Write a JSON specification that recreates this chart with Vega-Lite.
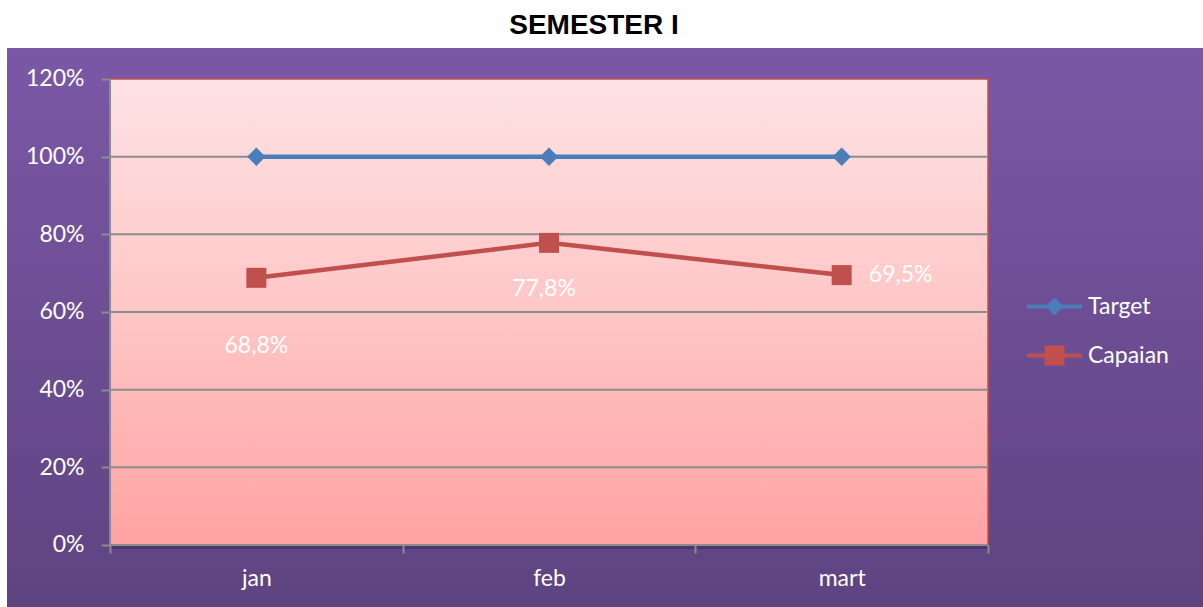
{
  "$schema": "https://vega.github.io/schema/vega-lite/v6.json",
  "width": 1196,
  "height": 559,
  "autosize": {"type": "none"},
  "padding": {"left": 7, "top": 48, "right": 0, "bottom": 0},
  "background": "white",
  "title": {"text": "SEMESTER I", "font": "Liberation Sans", "fontSize": 28, "fontWeight": "bold", "color": "#000000", "anchor": "middle", "frame": "group", "dx": -11, "offset": -14, "baseline": "alphabetic"},
  "config": {
    "view": {"fill": {"gradient": "linear", "x1": 0, "y1": 0, "x2": 0, "y2": 1, "stops": [{"offset": 0, "color": "#7b58a6"}, {"offset": 1, "color": "#5e4381"}]}, "stroke": null},
    "locale": {"number": {"decimal": ",", "thousands": ".", "grouping": [3], "currency": ["Rp", ""]}}
  },
  "data": {"values": [
    {"bulan": "jan", "bulan_ke": 1, "seri": "Target", "nilai": 1.0},
    {"bulan": "feb", "bulan_ke": 2, "seri": "Target", "nilai": 1.0},
    {"bulan": "mart", "bulan_ke": 3, "seri": "Target", "nilai": 1.0},
    {"bulan": "jan", "bulan_ke": 1, "seri": "Capaian", "nilai": 0.688},
    {"bulan": "feb", "bulan_ke": 2, "seri": "Capaian", "nilai": 0.778},
    {"bulan": "mart", "bulan_ke": 3, "seri": "Capaian", "nilai": 0.695}
  ]},
  "layer": [
    {
      "data": {"values": [{}]},
      "mark": {"type": "rect", "fill": "#2a1a40", "opacity": 0.35, "yOffset": 4},
      "encoding": {
        "x": {"datum": 0.5, "type": "quantitative", "title": null,
          "scale": {"type": "linear", "domain": [0.148, 4.2346], "nice": false, "zero": false},
          "axis": {"orient": "bottom", "offset": -62, "values": [0.5, 1, 1.5, 2, 2.5, 3, 3.5],
            "labelExpr": "datum.value == 1 ? 'jan' : datum.value == 2 ? 'feb' : datum.value == 3 ? 'mart' : ''",
            "domain": false, "grid": false, "tickSize": 8, "tickColor": "#8c8c8c", "tickWidth": 2,
            "tickOpacity": {"condition": {"test": "datum.value % 1 == 0", "value": 0}, "value": 1},
            "labelPadding": 14, "labelColor": "white", "labelFont": "Lato", "labelFontSize": 23,
            "labelFlush": false, "labelOverlap": false, "title": null, "zindex": 1}},
        "x2": {"datum": 3.5},
        "y": {"datum": 0, "type": "quantitative", "title": null,
          "scale": {"type": "linear", "domain": [-0.15966, 1.2798], "nice": false, "zero": false},
          "axis": {"orient": "left", "offset": -103, "values": [0, 0.2, 0.4, 0.6, 0.8, 1, 1.2], "format": ".0%",
            "domain": false, "grid": false, "tickSize": 9, "tickColor": "#8c8c8c", "tickWidth": 2,
            "labelPadding": 17, "labelColor": "white", "labelFont": "Lato", "labelFontSize": 23, "title": null, "zindex": 1}},
        "y2": {"datum": 1.2}
      }
    },
    {
      "data": {"values": [{}]},
      "mark": {"type": "rect", "stroke": "#c0504d", "strokeWidth": 1.5,
        "fill": {"gradient": "linear", "x1": 0, "y1": 0, "x2": 0, "y2": 1, "stops": [{"offset": 0, "color": "#fde2e4"}, {"offset": 0.5, "color": "#ffc6c6"}, {"offset": 1, "color": "#ffa3a3"}]}},
      "encoding": {
        "x": {"datum": 0.5, "type": "quantitative", "title": null},
        "x2": {"datum": 3.5},
        "y": {"datum": 0, "type": "quantitative", "title": null},
        "y2": {"datum": 1.2}
      }
    },
    {
      "data": {"values": [{"g": 0.2}, {"g": 0.4}, {"g": 0.6}, {"g": 0.8}, {"g": 1.0}]},
      "mark": {"type": "rule", "color": "#8c8c8c", "strokeWidth": 2},
      "encoding": {
        "x": {"datum": 0.5, "type": "quantitative", "title": null},
        "x2": {"datum": 3.5},
        "y": {"field": "g", "type": "quantitative", "title": null}
      }
    },
    {
      "data": {"values": [{}]},
      "mark": {"type": "rule", "color": "#8c8c8c", "strokeWidth": 2},
      "encoding": {
        "x": {"datum": 0.5, "type": "quantitative", "title": null},
        "y": {"datum": 0, "type": "quantitative", "title": null},
        "y2": {"datum": 1.2}
      }
    },
    {
      "data": {"values": [{}]},
      "mark": {"type": "rule", "color": "#8c8c8c", "strokeWidth": 2},
      "encoding": {
        "x": {"datum": 0.5, "type": "quantitative", "title": null},
        "x2": {"datum": 3.5},
        "y": {"datum": 0, "type": "quantitative", "title": null}
      }
    },
    {
      "mark": {"type": "line", "strokeWidth": 4.5},
      "encoding": {
        "x": {"field": "bulan_ke", "type": "quantitative", "title": null},
        "y": {"field": "nilai", "type": "quantitative", "title": null},
        "color": {"field": "seri", "type": "nominal",
          "scale": {"domain": ["Target", "Capaian"], "range": ["#4a7ebb", "#c0504d"]},
          "legend": {"orient": "none", "legendX": 1036, "legendY": 247, "title": null, "padding": 0,
            "labelColor": "white", "labelFont": "Lato", "labelFontSize": 23, "labelOffset": 22,
            "symbolSize": 400, "rowPadding": 25, "symbolStrokeWidth": 0,
            "encode": {"symbols": {"update": {
              "shape": {"signal": "datum.value == 'Target' ? 'M-2.75,-0.2H2.75V0.2H-2.75Z M0,-0.9L0.9,0L0,0.9L-0.9,0Z' : 'M-2.75,-0.2H2.75V0.2H-2.75Z M-1,-1H1V1H-1Z'"},
              "fill": {"scale": "color", "field": "value"},
              "stroke": {"value": "transparent"},
              "opacity": {"value": 1}}}}}}
      }
    },
    {
      "transform": [{"filter": "datum.seri == 'Target'"}],
      "mark": {"type": "point", "shape": "diamond", "filled": true, "size": 340, "opacity": 1},
      "encoding": {
        "x": {"field": "bulan_ke", "type": "quantitative", "title": null},
        "y": {"field": "nilai", "type": "quantitative", "title": null},
        "color": {"field": "seri", "type": "nominal", "legend": null}
      }
    },
    {
      "transform": [{"filter": "datum.seri == 'Capaian'"}],
      "mark": {"type": "point", "shape": "square", "filled": true, "size": 400, "opacity": 1},
      "encoding": {
        "x": {"field": "bulan_ke", "type": "quantitative", "title": null},
        "y": {"field": "nilai", "type": "quantitative", "title": null},
        "color": {"field": "seri", "type": "nominal", "legend": null}
      }
    },
    {
      "transform": [{"filter": "datum.seri == 'Capaian' && datum.bulan == 'jan'"}],
      "mark": {"type": "text", "color": "white", "font": "Lato", "fontSize": 23, "dy": 68, "align": "center", "baseline": "middle"},
      "encoding": {
        "x": {"field": "bulan_ke", "type": "quantitative", "title": null},
        "y": {"field": "nilai", "type": "quantitative", "title": null},
        "text": {"field": "nilai", "type": "quantitative", "format": ".1%"}
      }
    },
    {
      "transform": [{"filter": "datum.seri == 'Capaian' && datum.bulan == 'feb'"}],
      "mark": {"type": "text", "color": "white", "font": "Lato", "fontSize": 23, "dx": -5, "dy": 46, "align": "center", "baseline": "middle"},
      "encoding": {
        "x": {"field": "bulan_ke", "type": "quantitative", "title": null},
        "y": {"field": "nilai", "type": "quantitative", "title": null},
        "text": {"field": "nilai", "type": "quantitative", "format": ".1%"}
      }
    },
    {
      "transform": [{"filter": "datum.seri == 'Capaian' && datum.bulan == 'mart'"}],
      "mark": {"type": "text", "color": "white", "font": "Lato", "fontSize": 23, "dx": 59, "align": "center", "baseline": "middle"},
      "encoding": {
        "x": {"field": "bulan_ke", "type": "quantitative", "title": null},
        "y": {"field": "nilai", "type": "quantitative", "title": null},
        "text": {"field": "nilai", "type": "quantitative", "format": ".1%"}
      }
    }
  ]
}
